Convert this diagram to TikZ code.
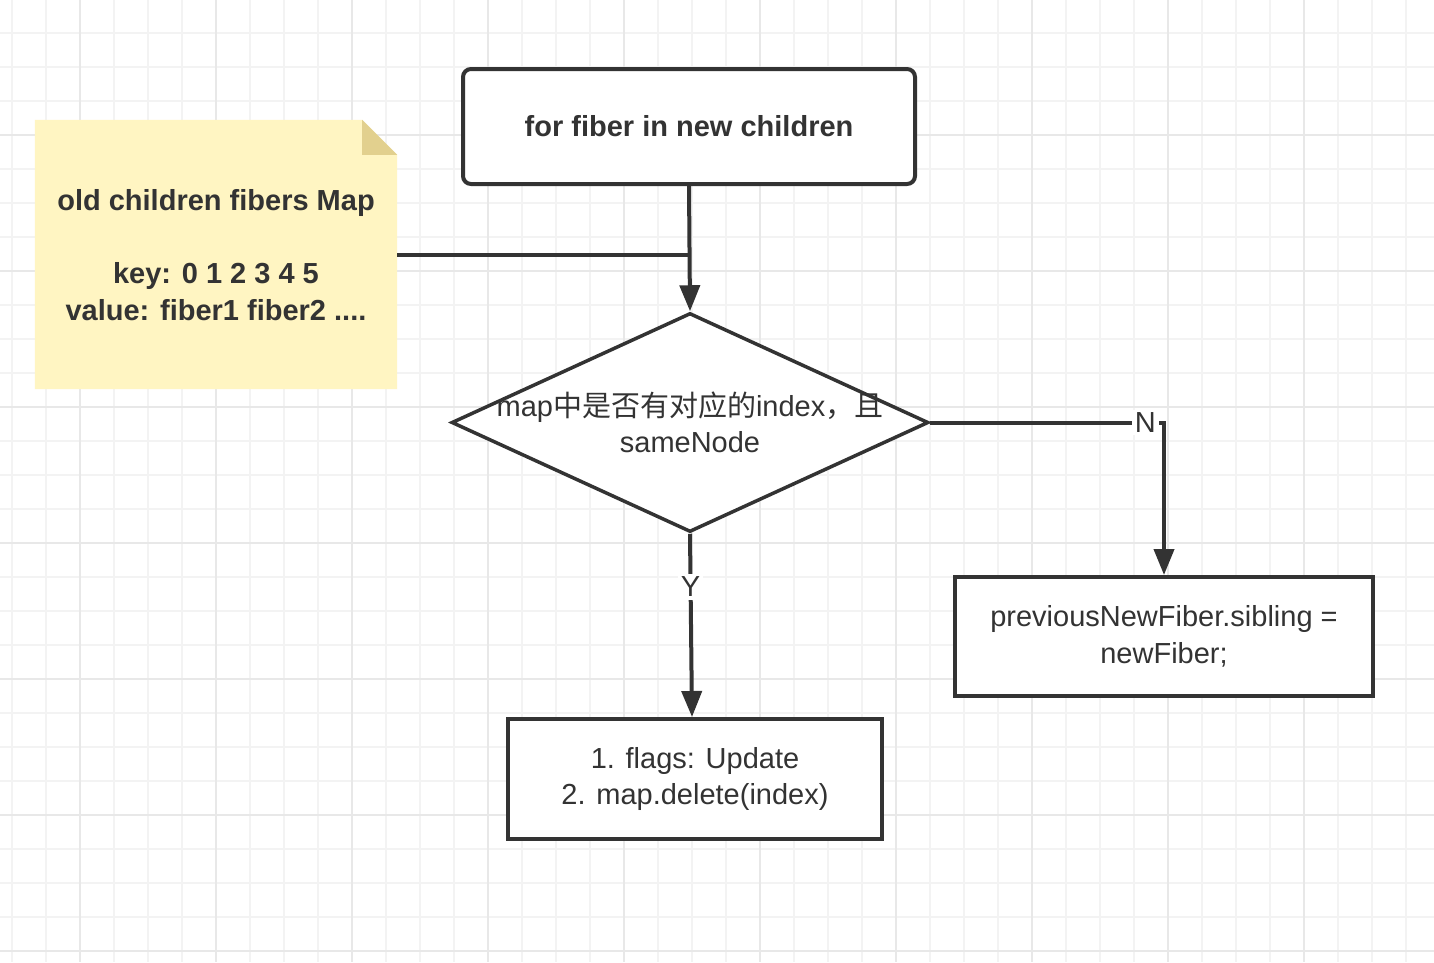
\documentclass[tikz,border=0pt]{standalone}
\usepackage{fontspec}
\setmainfont{Liberation Sans}
\newfontfamily\cjk{Noto Sans CJK SC}
\usetikzlibrary{arrows.meta,shapes.geometric,calc}
\definecolor{ink}{HTML}{333333}
\definecolor{gridminor}{HTML}{F3F3F3}
\definecolor{gridmajor}{HTML}{E8E8E8}
\definecolor{notefill}{HTML}{FFF5C2}
\definecolor{notefold}{HTML}{E2D08E}
\def\txt{\fontsize{29}{36.5}\selectfont}

\begin{document}
\begin{tikzpicture}[x=1pt,y=-1pt,
    box/.style={draw=ink, line width=4pt, fill=white, text=ink, font=\txt, align=center, inner sep=0pt},
    decision/.style={diamond, draw=ink, line width=3.5pt, fill=white, inner sep=0pt, minimum width=477pt, minimum height=219pt},
    link/.style={draw=ink, line width=4pt},
    arrowlink/.style={link, -{Triangle[length=26pt,width=20pt]}},
    lab/.style={fill=white, text=ink, font=\txt, inner sep=3pt}]
		%%%%% START %%%%%
		
		\useasboundingbox (0, 0) rectangle (1434, 962);
		\fill[white] (0, 0) rectangle (1434, 962);
		
		% grid
		\foreach \gx in {12, 46, ..., 1434} \draw[gridminor, line width=1.5pt] (\gx, 0) -- (\gx, 962);
		\foreach \gy in {33, 67, ..., 962} \draw[gridminor, line width=1.5pt] (0, \gy) -- (1434, \gy);
		\foreach \gx in {80, 216, ..., 1434} \draw[gridmajor, line width=2pt] (\gx, 0) -- (\gx, 962);
		\foreach \gy in {135, 271, ..., 962} \draw[gridmajor, line width=2pt] (0, \gy) -- (1434, \gy);
		
		% note
		\node[minimum width=362pt, minimum height=269pt, inner sep=0pt] (note) at (216, 254.5) {};
		\fill[notefill] (note.north west) -- ([xshift=-35pt]note.north east) -- ([yshift=-35pt]note.north east) -- (note.south east) -- (note.south west) -- cycle;
		\fill[notefold] ([xshift=-35pt]note.north east) -- ([xshift=-35pt, yshift=-35pt]note.north east) -- ([yshift=-35pt]note.north east) -- cycle;
		\node[text=ink, font=\txt\bfseries, align=center] (notetext) at (216, 255) {old children fibers Map\\[36.5pt]key: 0 1 2 3 4 5\\value: fiber1 fiber2 ....};
		
		% nodes
		\node[box, rounded corners=8pt, minimum width=452pt, minimum height=115pt, font=\txt\bfseries] (loop) at (689, 126.5) {for fiber in new children};
		\node[decision] (cond) at (690, 422.5) {};
		\node[text=ink, font=\txt, align=center] (condtext) at (690, 422.5) {map{\cjk 中是否有对应的}index{\cjk ，且}\\sameNode};
		\node[box, minimum width=374pt, minimum height=120pt] (update) at (695, 779) {1. flags: Update\\2. map.delete(index)};
		\node[box, minimum width=418pt, minimum height=119pt] (sibling) at (1164, 636.5) {previousNewFiber.sibling =\\newFiber;};
		
		% connectors
		\draw[link] (note.east) -- (note.east -| loop.south);
		\draw[arrowlink] (loop.south) -- (cond.north);
		\draw[arrowlink] (cond.south) -- node[lab, pos=0.29] {Y} ([xshift=-3pt]update.north);
		\draw[arrowlink] (cond.east) -| node[lab, pos=0.46] {N} (sibling.north);
		
		%%%%% END %%%%%
	\end{tikzpicture}
\end{document}
